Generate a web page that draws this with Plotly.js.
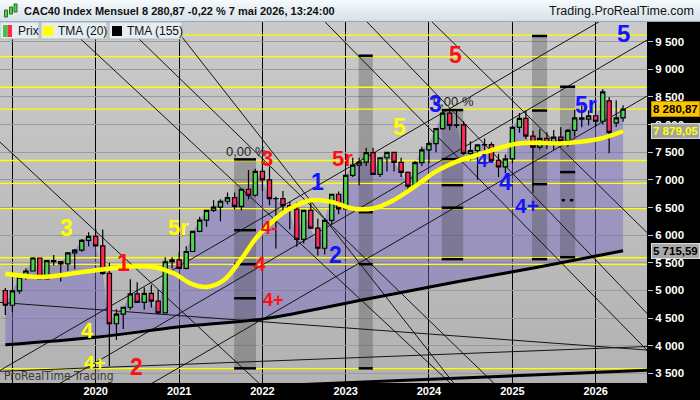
<!DOCTYPE html>
<html><head><meta charset="utf-8">
<script src="https://cdn.plot.ly/plotly-3.0.1.min.js"></script>
<style>
html,body{margin:0;padding:0;background:#000;}
#chart{width:700px;height:400px;background:
 linear-gradient(#9aa8b2,#9aa8b2) 0 21px/700px 1px no-repeat,
 linear-gradient(to bottom,#f6fafc,#d5e1e9) 0 0/700px 21px no-repeat,
 linear-gradient(to bottom,#cacaca,#b2b2b2) 0 22px/647px 361px no-repeat,
 #000;}
</style></head><body><div id="chart"></div>
<script>
// ---------- data ----------
const dates = ['2018-12',
 '2019-01','2019-02','2019-03','2019-04','2019-05','2019-06','2019-07','2019-08','2019-09','2019-10','2019-11','2019-12',
 '2020-01','2020-02','2020-03','2020-04','2020-05','2020-06','2020-07','2020-08','2020-09','2020-10','2020-11','2020-12',
 '2021-01','2021-02','2021-03','2021-04','2021-05','2021-06','2021-07','2021-08','2021-09','2021-10','2021-11','2021-12',
 '2022-01','2022-02','2022-03','2022-04','2022-05','2022-06','2022-07','2022-08','2022-09','2022-10','2022-11','2022-12',
 '2023-01','2023-02','2023-03','2023-04','2023-05','2023-06','2023-07','2023-08','2023-09','2023-10','2023-11','2023-12',
 '2024-01','2024-02','2024-03','2024-04','2024-05','2024-06','2024-07','2024-08','2024-09','2024-10','2024-11','2024-12',
 '2025-01','2025-02','2025-03','2025-04','2025-05','2025-06','2025-07','2025-08','2025-09','2025-10','2025-11','2025-12',
 '2026-01','2026-02','2026-03','2026-04','2026-05'];
const open = [4998,
 4731,4992,5241,5351,5586,5207,5539,5519,5481,5678,5730,5905,
 5978,5806,5309,4396,4572,4695,4936,4784,4947,4804,4594,5518,
 5551,5399,5703,6067,6270,6447,6508,6613,6680,6520,6830,6721,
 7153,7000,6659,6660,6534,6469,5923,6449,6125,5762,6267,6739,
 6474,7082,7267,7322,7492,7099,7400,7497,7317,7135,6886,7311,
 7543,7657,7928,8206,7985,7993,7479,7531,7631,7636,7351,7235,
 7381,7950,8111,7791,7593,7752,7666,7772,7704,7896,8121,8100,
 8160,8060,8430,8030,8120];
const high = [5045,
 5010,5250,5400,5600,5590,5540,5640,5525,5690,5750,5930,6050,
 6110,6100,5500,4660,4700,5200,5145,5050,5100,5000,5600,5600,
 5700,5800,6070,6330,6460,6630,6650,6770,6770,6840,7180,7200,
 7384,7240,6700,6800,6600,6600,6450,6600,6300,6300,6750,6790,
 7100,7400,7400,7580,7580,7400,7500,7500,7400,7150,7340,7600,
 7690,7930,8250,8260,8260,8060,7700,7640,7750,7680,7470,7460,
 7970,8210,8260,7890,7920,7860,7900,7950,7920,8270,8350,8260,
 8380,8640,8500,8440,8350];
const low = [4556,
 4610,4940,5190,5350,5200,5200,5450,5160,5350,5380,5700,5800,
 5800,5280,3632,4100,4300,4650,4780,4650,4690,4570,4580,5400,
 5390,5380,5700,6050,6150,6420,6250,6560,6470,6450,6650,6700,
 6800,6540,5756,6400,6100,5790,5850,6110,5630,5650,6200,6380,
 6470,7050,6900,7250,7100,7050,7150,7150,7050,6780,6850,7250,
 7300,7500,7900,7900,7940,7450,7350,7000,7350,7350,7050,7120,
 7300,7850,7740,6763,7550,7560,7540,7600,7600,7780,7950,7990,
 7960,8000,7480,7955,8050];
const close = [4731,
 4992,5241,5351,5586,5207,5539,5519,5481,5678,5730,5905,5978,
 5806,5309,4396,4572,4695,4936,4784,4947,4804,4594,5518,5551,
 5399,5703,6067,6270,6447,6508,6613,6680,6520,6830,6721,7153,
 7000,6659,6660,6534,6469,5923,6449,6125,5762,6267,6739,6474,
 7082,7267,7322,7492,7099,7400,7497,7317,7135,6886,7311,7543,
 7657,7928,8206,7985,7993,7479,7531,7631,7636,7351,7235,7381,
 7950,8111,7791,7593,7752,7666,7772,7704,7896,8121,8100,8160,
 8060,8590,7860,8120,8280.87];

const tma20Dates = ['2018-12-01','2019-05-07','2019-11-06','2020-05-05','2020-09-10','2020-12-10','2021-02-21','2021-05-03',
 '2021-07-15','2021-09-27','2021-12-08','2022-02-20','2022-05-02','2022-08-01','2022-11-01','2023-01-31','2023-04-30',
 '2023-07-30','2023-10-29','2024-01-29','2024-04-28','2024-07-28','2024-10-28','2025-01-27','2025-04-27','2025-07-27',
 '2025-10-26','2026-01-26','2026-05-01'];
const tma20 = [5300,5243,5333,5424,5424,5304,5123,5062,5183,5545,5967,6270,6482,6632,6601,6482,6482,6632,6873,7145,7326,
 7447,7569,7659,7670,7659,7688,7750,7879.05];

const tma155Dates = ['2018-12-01','2020-01-01','2020-12-27','2022-01-12','2023-03-07','2024-04-28','2025-04-27','2026-05-01'];
const tma155 = [4015,4150,4337,4489,4821,5152,5424,5715.59];

const levels = [9620,9230,8675,8281,7350,6935,6480,5590,5470,3585];

const bandStart = ['2021-08-30','2023-02-27','2024-02-26','2025-03-28','2025-07-29'];
const bandEnd   = ['2021-12-04','2023-04-30','2024-05-30','2025-06-02','2025-10-03'];
const bandTop   = [7370,9246,8263,9603,8685];
const bandBottom= [3589,3589,5565,5565,5600];
const bandMarks = [[7370,6089,5473,4857,3589],[9246,6415,5473,3589],[8263,7375,6904,6496,5565],[9603,8254,6922,5565],[8685,7140,5600]];
const splitMarkStart = ['2025-08-05','2025-09-10'];
const splitMarkEnd   = ['2025-08-19','2025-09-25'];
const splitMarkLevel = 6632;

const lineFrom = '2018-11-01', lineTo = '2026-09-01';
const thinFromValues = [7708,10933,12015,15882,16799,17545,13815,3536,1707,2667,4784,3534];
const thinToValues   = [-3285,-60,560,3842,4506,5973,-1230,10408,8558,9572,3915,3987];
const thickFromValue = 3070, thickToValue = 3556;

const waveText  = ['3','1','4','4+','2','5r','0,00 %','3','4-','4','4+','1','2','5r','5','5','0,00 %','3','4-','4','4+','5r','5'];
const waveDate  = ['2019-08-28','2020-04-30','2019-11-28','2019-12-29','2020-06-26','2020-12-27','2021-07-16','2022-01-23','2022-02-01',
 '2021-12-23','2022-02-19','2022-08-29','2022-11-19','2022-12-16','2024-04-25','2023-08-27','2024-01-10','2024-01-28','2024-09-03',
 '2024-11-30','2025-03-04','2025-11-20','2026-05-01'];
const waveValue = [6125,5491,4277,3697,3607,6140,7505,7388,6120,5486,4821,6964,5636,7388,9259,7955,8409,8371,7357,6964,6542,8353,9652];
const waveTone  = ['y','r','y','y','r','y','k','r','r','r','r','b','b','r','r','y','k','b','b','b','b','b','b'];
const waveSize  = [23,23,22,19,23,22,13,22,18,21,18,23,23,22,23,23,13,23,19,23,21,23,24];

const yTicks = [3500,4000,4500,5000,5500,6000,6500,7000,7500,8000,8500,9000,9500];
const yearTicks = ['2019-01-01','2020-01-01','2021-01-01','2022-01-01','2023-01-01','2024-01-01','2025-01-01','2026-01-01'];
const yearLabels = ['','2020','2021','2022','2023','2024','2025','2026'];

const lastPrice = 8280.87, lastTma20 = 7879.05, lastTma155 = 5715.59;
const titleText = 'CAC40 Index Mensuel 8 280,87 -0,22 % 7 mai 2026, 13:24:00';

// ---------- build ----------
const xMin = '2018-11-07 14:00', xMax = '2026-08-14';
const yMin = 3324, yMax = 9856;
const PW = 647, PT = 22, PB = 383;
const px = v => v / PW;
const py = v => (PB - v) / (PB - PT);

function segments(x0s, x1s, y0s, y1s) {
  const x = [], y = [];
  for (let i = 0; i < x0s.length; i++) { x.push(x0s[i], x1s[i], null); y.push(y0s[i], y1s[i], null); }
  return {x, y};
}

const traces = [];
traces.push({x: tma155Dates, y: tma155, mode: 'lines', line: {width: 0, shape: 'spline'}, hoverinfo: 'skip'});
traces.push({x: dates, y: close, mode: 'lines', line: {width: 0}, fill: 'tonexty', fillcolor: 'rgba(112,100,196,0.45)', hoverinfo: 'skip'});
{
  const x = [], y = [];
  for (let i = 0; i < bandStart.length; i++) {
    x.push(bandStart[i], bandEnd[i], bandEnd[i], bandStart[i], bandStart[i], null);
    y.push(bandTop[i], bandTop[i], bandBottom[i], bandBottom[i], bandTop[i], null);
  }
  traces.push({x, y, mode: 'lines', fill: 'toself', fillcolor: 'rgba(60,60,60,0.30)', line: {width: 0}, hoverinfo: 'skip'});
}
{
  const s = segments(levels.map(() => lineFrom), levels.map(() => lineTo), levels, levels);
  traces.push({x: s.x, y: s.y, mode: 'lines', line: {color: '#ffff00', width: 1.3}, hoverinfo: 'skip'});
}
{
  const s = segments(thinFromValues.map(() => lineFrom), thinToValues.map(() => lineTo), thinFromValues, thinToValues);
  traces.push({x: s.x, y: s.y, mode: 'lines', line: {color: '#141414', width: 1}, hoverinfo: 'skip'});
}
traces.push({x: [lineFrom, lineTo], y: [thickFromValue, thickToValue], mode: 'lines', line: {color: '#000', width: 3}, hoverinfo: 'skip'});
{
  const x0 = [], x1 = [], yy = [];
  bandMarks.forEach((arr, i) => arr.forEach(v => { x0.push(bandStart[i]); x1.push(bandEnd[i]); yy.push(v); }));
  splitMarkStart.forEach((d, i) => { x0.push(d); x1.push(splitMarkEnd[i]); yy.push(splitMarkLevel); });
  const s = segments(x0, x1, yy, yy);
  traces.push({x: s.x, y: s.y, mode: 'lines', line: {color: '#000', width: 2.5}, hoverinfo: 'skip'});
}
traces.push({type: 'candlestick', x: dates, open, high, low, close, xaxis: 'x2', yaxis: 'y2',
  increasing: {line: {color: '#000', width: 1.2}, fillcolor: '#4fd44f'},
  decreasing: {line: {color: '#000', width: 1.2}, fillcolor: '#ff2a5a'},
  whiskerwidth: 0, hoverinfo: 'skip'});
traces.push({x: tma155Dates, y: tma155, xaxis: 'x2', yaxis: 'y2', mode: 'lines', line: {color: '#000', width: 3, shape: 'spline'}, hoverinfo: 'skip'});
traces.push({x: tma20Dates, y: tma20, xaxis: 'x2', yaxis: 'y2', mode: 'lines', line: {color: '#ffff00', width: 4.5, shape: 'spline'}, hoverinfo: 'skip'});

const toneColor = {y: '#ffff00', r: '#ff1010', b: '#1414ff', k: '#1e1e1e'};
const annotations = waveText.map((t, i) => ({
  text: t, x: waveDate[i], y: waveValue[i], xref: 'x', yref: 'y', showarrow: false,
  xanchor: waveTone[i] === 'k' ? 'left' : 'center',
  font: {family: 'Liberation Sans, Arial, sans-serif', size: waveSize[i], color: toneColor[waveTone[i]], weight: waveTone[i] === 'k' ? 'normal' : 'bold'}
}));
[[lastPrice, '8 280,87', '#ffc400', '#000', '#c08a00'], [lastTma20, '7 879,05', '#a2a2a2', '#ffff00', '#d8d8d8'], [lastTma155, '5 715,59', '#a8a8a8', '#000', '#dcdcdc']]
 .forEach(b => annotations.push({text: b[1], x: px(651), xref: 'paper', xanchor: 'left', y: b[0], yref: 'y', showarrow: false,
   bgcolor: b[2], bordercolor: b[4], borderwidth: 1, borderpad: 1,
   font: {family: 'Liberation Sans, Arial, sans-serif', size: 11.5, color: b[3], weight: 'bold'}}));
annotations.push({text: titleText, x: px(22), y: py(11), xref: 'paper', yref: 'paper', xanchor: 'left', yanchor: 'middle', showarrow: false,
  font: {family: 'Liberation Sans, Arial, sans-serif', size: 11, color: '#111', weight: 'bold'}});
annotations.push({text: 'Trading.ProRealTime.com', x: px(696), y: py(11), xref: 'paper', yref: 'paper', xanchor: 'right', yanchor: 'middle', showarrow: false,
  font: {family: 'Liberation Sans, Arial, sans-serif', size: 12.5, color: '#111'}});
[['Prix', 16], ['TMA (20)', 56], ['TMA (155)', 125]].forEach(l => annotations.push({text: l[0], x: px(l[1]), y: py(30.5), xref: 'paper', yref: 'paper',
  xanchor: 'left', yanchor: 'middle', showarrow: false, font: {family: 'Liberation Sans, Arial, sans-serif', size: 12, color: '#111'}}));
annotations.push({text: 'ProRealTime Trading', x: px(2), y: py(376), xref: 'paper', yref: 'paper', xanchor: 'left', yanchor: 'middle', showarrow: false,
  font: {family: 'Liberation Sans Narrow, DejaVu Sans Condensed, Arial Narrow, sans-serif', size: 12, color: '#3a3a3a'}});

const rect = (x0, y0, x1, y1, fill, line) => ({type: 'rect', xref: 'paper', yref: 'paper', layer: 'above',
  x0: px(x0), x1: px(x1), y0: py(y1), y1: py(y0), fillcolor: fill, line: {color: line || fill, width: line ? 1 : 0}});
const shapes = [
  rect(0, 22, 39, 39, '#e6edf1', '#aab6be'),
  rect(41, 22, 107, 39, '#e6edf1', '#aab6be'),
  rect(109, 22, 182, 39, '#e6edf1', '#aab6be'),
  rect(3, 25, 7.5, 37, '#3cc83c'), rect(7.5, 25, 12, 37, '#ff2a4a'),
  rect(43, 26, 53, 36, '#ffff00'), rect(112, 26, 122, 36, '#000'),
  rect(4.5, 10, 7.5, 17, '#4fd44f', '#2a6a2a'), rect(9.5, 7, 12.5, 14, '#4fd44f', '#2a6a2a'), rect(14, 4, 17, 12, '#4fd44f', '#2a6a2a')
];

const layout = {
  width: 700, height: 400, margin: {l: 0, r: 53, t: 22, b: 17, pad: 0},
  paper_bgcolor: 'rgba(0,0,0,0)', plot_bgcolor: 'rgba(0,0,0,0)',
  showlegend: false, hovermode: false, separators: ', ', boxgap: 0.05,
  font: {family: 'Liberation Sans, Arial, sans-serif'},
  xaxis: {type: 'date', range: [xMin, xMax], tickvals: yearTicks, ticktext: yearLabels, showgrid: true, gridcolor: '#000', gridwidth: 1,
    ticks: '', tickfont: {color: '#fff', size: 11, weight: 'bold'}, zeroline: false, showline: false, rangeslider: {visible: false}},
  yaxis: {range: [yMin, yMax], side: 'right', tickvals: yTicks, tickformat: ',d', showgrid: true, gridcolor: '#9b9b9b', gridwidth: 1,
    ticks: 'outside', ticklen: 5, tickcolor: '#c8c8c8', tickfont: {color: '#fff', size: 11.5, weight: 'bold'}, zeroline: false, showline: false},
  xaxis2: {type: 'date', overlaying: 'x', range: [xMin, xMax], visible: false, rangeslider: {visible: false}},
  yaxis2: {overlaying: 'y', range: [yMin, yMax], visible: false},
  shapes, annotations
};
Plotly.newPlot('chart', traces, layout, {staticPlot: true, displayModeBar: false});
</script></body></html>
